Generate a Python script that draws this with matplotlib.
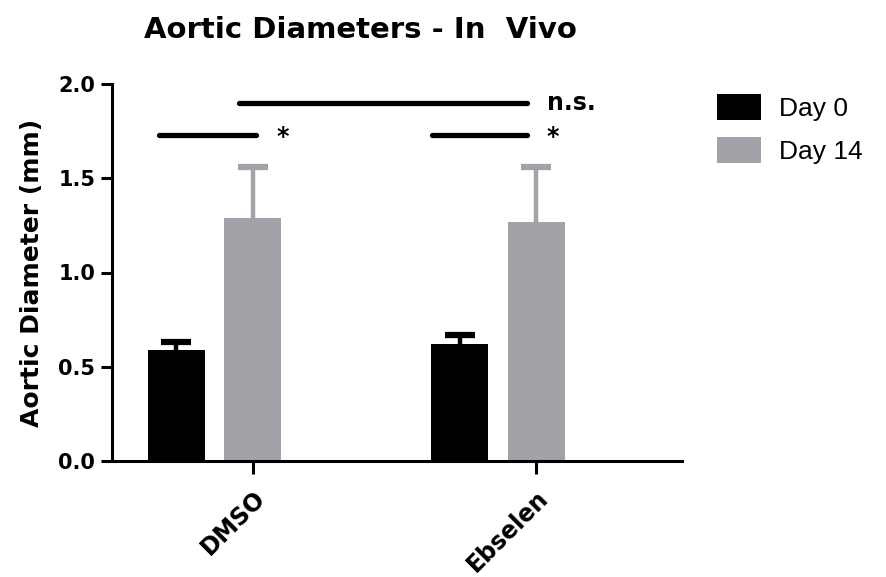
import numpy as np
import matplotlib
matplotlib.use("Agg")
import matplotlib.pyplot as plt
import matplotlib.transforms as mtransforms

plt.rcParams['font.family'] = ['DejaVu Sans']

groups = ["DMSO", "Ebselen"]
series = ["Day 0", "Day 14"]
day0_mean = [0.59, 0.62]
day0_err = [0.04, 0.05]
day14_mean = [1.29, 1.27]
day14_err = [0.27, 0.29]

colors = ["#000000", "#a2a2a8"]

fig = plt.figure(figsize=(8.86, 5.77), dpi=100)
ax = fig.add_axes([112/886, 1-461/577, (682-112)/886, (461-84)/577])

group_x = np.array([1.80, 6.77])
off = 0.67
w = 1.0

for k, (mean, err) in enumerate([(day0_mean, day0_err), (day14_mean, day14_err)]):
    xs = group_x + (off if k == 1 else -off)
    ax.bar(xs, mean, width=w, color=colors[k], label=series[k], zorder=2)
    eb = ax.errorbar(xs, mean, yerr=[np.zeros(len(err)), err], fmt='none',
                     ecolor=colors[k], elinewidth=3.2, capsize=11, capthick=4.5, zorder=1)
    # only the upper cap
    eb[1][0].set_visible(False)

ax.set_xlim(0, 10)
ax.set_ylim(0, 2.0)
ax.set_yticks([0.0, 0.5, 1.0, 1.5, 2.0])
ax.set_yticklabels(["0.0", "0.5", "1.0", "1.5", "2.0"], fontsize=15, fontweight='bold')
ax.set_xticks(group_x + off)
ax.set_xticklabels(groups, rotation=45, ha='right', rotation_mode='anchor',
                   fontsize=17, fontweight='bold')
shift = mtransforms.ScaledTranslation(4/72, 0, fig.dpi_scale_trans)
for lab in ax.get_xticklabels():
    lab.set_transform(lab.get_transform() + shift)
ax.set_ylabel("Aortic Diameter (mm)", fontsize=18, fontweight='bold', labelpad=10)

for s in ['top', 'right']:
    ax.spines[s].set_visible(False)
for s in ['left', 'bottom']:
    ax.spines[s].set_linewidth(2.2)
ax.tick_params(axis='y', width=2.2, length=8, pad=4)
ax.tick_params(axis='x', width=2.2, length=9, pad=9)

# significance bars
ax.plot([2.23, 7.28], [1.90, 1.90], color='black', lw=3.8, solid_capstyle='round', clip_on=False)
ax.plot([0.83, 2.53], [1.73, 1.73], color='black', lw=3.8, solid_capstyle='round', clip_on=False)
ax.plot([5.61, 7.28], [1.73, 1.73], color='black', lw=3.8, solid_capstyle='round', clip_on=False)
ax.text(7.63, 1.90, "n.s.", fontsize=17, fontweight='bold', va='center', ha='left')
ax.text(2.99, 1.72, "*", fontsize=17, fontweight='bold', va='center', ha='center')
ax.text(7.73, 1.72, "*", fontsize=17, fontweight='bold', va='center', ha='center')

fig.text(360/886, 1-30/577, "Aortic Diameters - In  Vivo", fontsize=21,
         fontweight='bold', ha='center', va='center')

ax.legend(loc='upper left', bbox_to_anchor=(717/886, 1-94/577),
          bbox_transform=fig.transFigure, frameon=False,
          handlelength=1.65, handleheight=1.15, handletextpad=0.7,
          labelspacing=0.6, borderpad=0, borderaxespad=0,
          prop={'family': 'Liberation Sans', 'size': 19})

fig.savefig("out.png", dpi=100)
